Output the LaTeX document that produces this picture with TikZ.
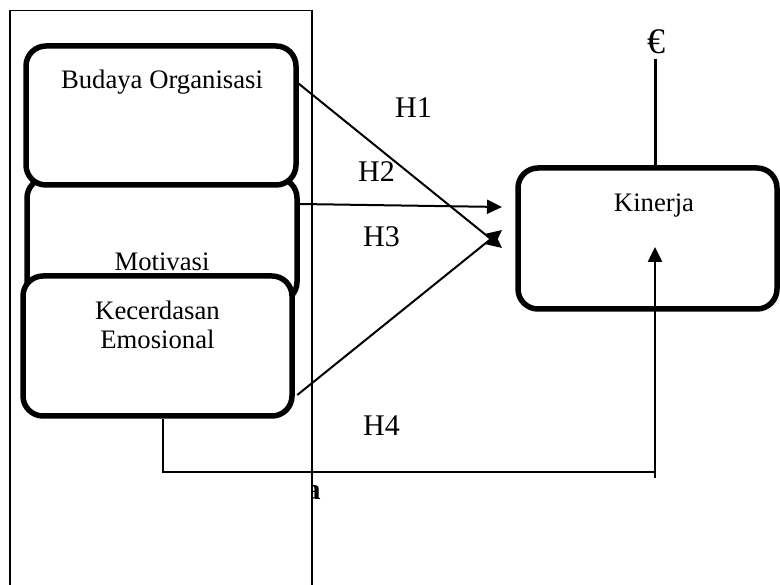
\documentclass[tikz,border=0pt]{standalone}
\usepackage{fontspec}
\setmainfont{Liberation Serif}
\usetikzlibrary{arrows.meta,calc}
\begin{document}
\begin{tikzpicture}[x=1pt,y=-1pt,
  box/.style={draw,fill=white,rounded corners=20pt,line width=5.5pt,inner sep=0pt},
  lbl/.style={font=\fontsize{26.7}{30}\selectfont,inner sep=0pt,anchor=base},
  hlbl/.style={font=\fontsize{30}{34}\selectfont,inner sep=0pt,anchor=base west},
  arr/.style={line width=2pt,-{Triangle[length=15pt,width=14pt]}},
]
\useasboundingbox (0,0) rectangle (780,585);
% outer frame (open at the bottom)
\draw[line width=1.3pt] (10,600) -- (10,10.7) -- (312,10.7) -- (312,600);
% boxes
\node[box,minimum width=270pt,minimum height=124pt] (mo) at (162,240) {};
\node[box,minimum width=270pt,minimum height=139pt] (bo) at (161,115.5) {};
\node[box,minimum width=269pt,minimum height=140pt] (ke) at (157.5,346) {};
\node[box,minimum width=259pt,minimum height=141pt] (ki) at (647.5,238.5) {};
% texts
\node[lbl] (tbo) at (162,89) {Budaya Organisasi};
\node[lbl] (tmo) at (162,271) {Motivasi};
\node[lbl] (tke1) at (157.5,320) {Kecerdasan};
\node[lbl] (tke2) at (157.5,349) {Emosional};
\node[lbl] (tki) at (654,212) {Kinerja};
\node[lbl,font=\fontsize{36}{40}\selectfont] (eur) at (656,54) {€};
\node[hlbl] (h1) at (395,118) {H1};
\node[hlbl] (h2) at (358,182) {H2};
\node[hlbl] (h3) at (363,247) {H3};
\node[hlbl] (h4) at (363,436) {H4};
% clipped bold letter
\begin{scope}
\clip (312.6,470) rectangle (340,520);
\node[font=\fontsize{30}{34}\selectfont\bfseries,inner sep=0pt,anchor=base] (aa) at (313,500) {a};
\end{scope}
% arrow tips
\coordinate (t1) at (502,248);
\coordinate (t2) at (502,207);
\coordinate (t3) at (502,230);
\coordinate (t4) at (655,247);
\coordinate (c1) at (163,472);
\coordinate (c2) at (655,472);
\coordinate (c3) at (655,478);
% connectors
\draw[arr] (bo.13) -- (t1);
\draw[arr] ($(mo.east)+(0,-36)$) -- (t2);
\draw[arr] ($(ke.east)+(2.5,49)$) -- (t3);
\draw[line width=1.5pt] (ke.south -| c1) -- (c1) -- (c2);
\draw[line width=2.5pt,-{Triangle[length=15pt,width=14pt]}] (c3) -- (t4);
\draw[line width=3pt] (ki.north -| t4) -- (655,59);
\end{tikzpicture}
\end{document}
